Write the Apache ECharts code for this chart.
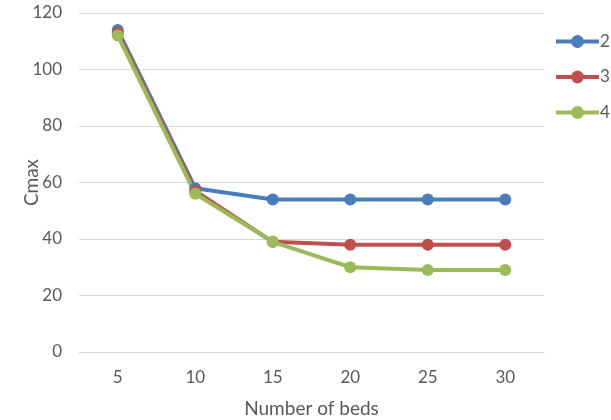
<!DOCTYPE html>
<html><head><meta charset="utf-8">
<script src="https://cdn.jsdelivr.net/npm/echarts@6/dist/echarts.min.js"></script>
<style>html,body{margin:0;padding:0;background:#fff}#c{width:611px;height:420px}</style>
</head><body><div id="c"></div>
<script>
const categories = ['5','10','15','20','25','30'];
const seriesNames = ['2','3','4'];
const s2 = [114, 58, 54, 54, 54, 54];
const s3 = [113, 57, 39, 38, 38, 38];
const s4 = [112, 56, 39, 30, 29, 29];
const yTicks = [0, 20, 40, 60, 80, 100, 120];
const colors = ['#4a7ebb', '#c0504d', '#9bbb59'];
const font = 'Lato, "Open Sans", sans-serif';
const chart = echarts.init(document.getElementById('c'));
const mk = (name, data, color) => ({
  name, type: 'line', data, color,
  symbol: 'circle', symbolSize: 12,
  lineStyle: { width: 4, color }, itemStyle: { color },
  emphasis: { disabled: true }
});
chart.setOption({
  animation: false,
  textStyle: { fontFamily: font },
  grid: { left: 79, right: 67, top: 13, bottom: 68, containLabel: false, outerBoundsMode: 'none' },
  legend: {
    orient: 'vertical', left: 554, top: 33, padding: 0,
    itemWidth: 43, itemHeight: 16, itemGap: 18.5,
    lineStyle: { width: 4 },
    textStyle: { fontSize: 17, color: '#595959', fontFamily: font, padding: [0,0,0,-4] },
    data: seriesNames
  },
  xAxis: {
    type: 'category', data: categories, boundaryGap: true,
    axisLine: { lineStyle: { color: '#d9d9d9', width: 1 } },
    axisTick: { show: false },
    axisLabel: { fontSize: 17, color: '#595959', margin: 17 },
    name: 'Number of beds', nameLocation: 'middle', nameGap: 47, nameMoveOverlap: false,
    nameTextStyle: { fontSize: 19, color: '#595959' }
  },
  yAxis: {
    type: 'value', min: 0, max: 120, interval: 20,
    axisLine: { show: false }, axisTick: { show: false },
    splitLine: { lineStyle: { color: '#d9d9d9', width: 1 } },
    axisLabel: { fontSize: 17, color: '#595959', margin: 17,
      formatter: v => yTicks.includes(v) ? String(v) : '' },
    name: 'Cmax', nameLocation: 'middle', nameGap: 38, nameRotate: 90, nameMoveOverlap: false,
    nameTextStyle: { fontSize: 19, color: '#595959' }
  },
  series: [mk(seriesNames[0], s2, colors[0]), mk(seriesNames[1], s3, colors[1]), mk(seriesNames[2], s4, colors[2])]
});
</script></body></html>
